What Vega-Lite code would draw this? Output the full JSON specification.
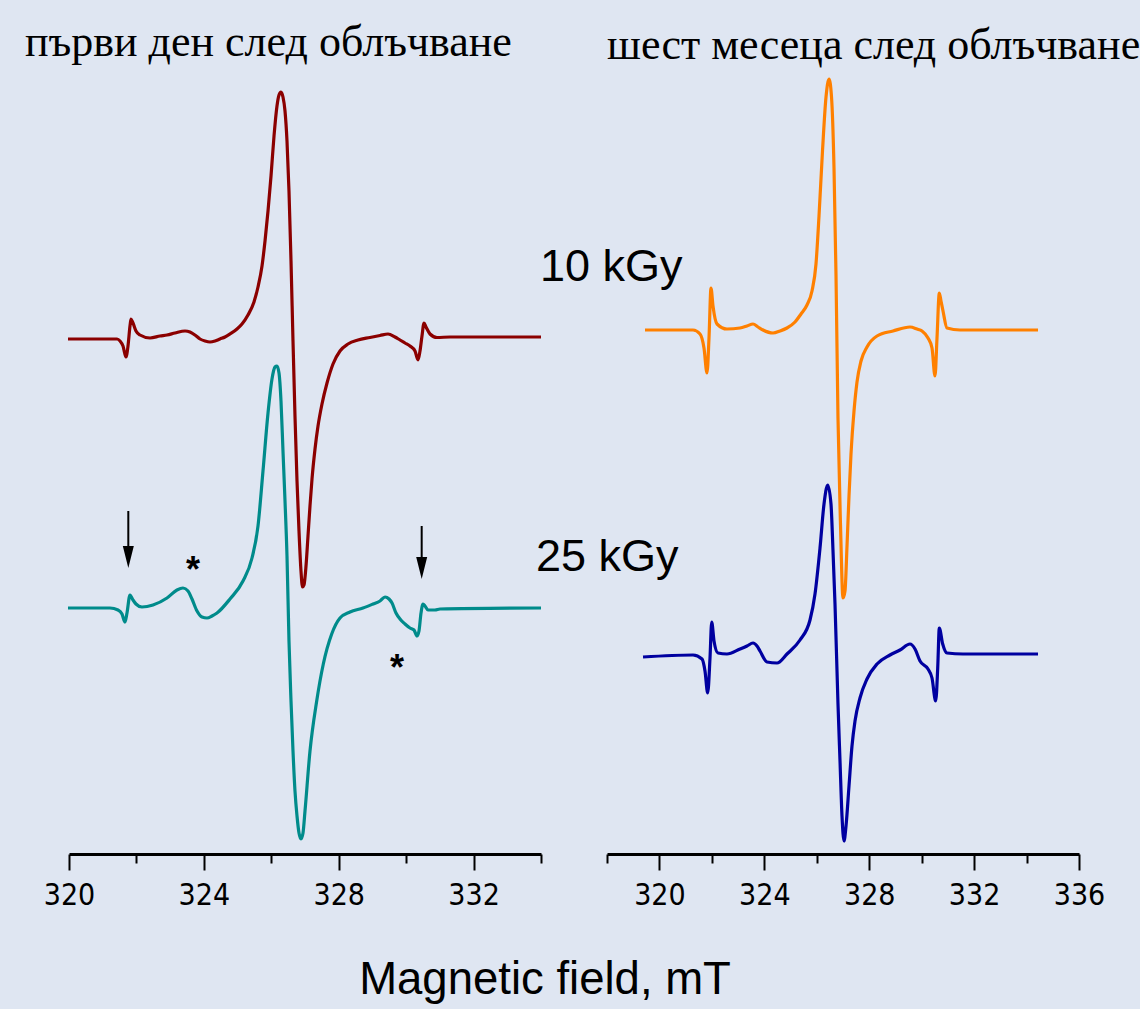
{
  "$schema": "https://vega.github.io/schema/vega-lite/v6.json",
  "background": "#dfe6f2",
  "padding": {"left": 25, "top": 20, "right": 4, "bottom": 8},
  "bounds": "flush",
  "spacing": 66,
  "resolve": {"scale": {"x": "independent", "y": "independent"}},
  "config": {"view": {"stroke": null}, "text": {"color": "black"}},
  "datasets": {
    "red": [
      {"B": 319.97, "I": 515}, {"B": 321.216, "I": 515}, {"B": 321.424, "I": 515}, {"B": 321.513, "I": 513},
      {"B": 321.602, "I": 508}, {"B": 321.691, "I": 497}, {"B": 321.75, "I": 508}, {"B": 321.809, "I": 528},
      {"B": 321.839, "I": 535}, {"B": 321.898, "I": 531}, {"B": 321.987, "I": 523}, {"B": 322.106, "I": 519},
      {"B": 322.403, "I": 516}, {"B": 322.699, "I": 518}, {"B": 322.907, "I": 519}, {"B": 323.144, "I": 521},
      {"B": 323.441, "I": 523}, {"B": 323.589, "I": 522}, {"B": 323.737, "I": 519}, {"B": 323.886, "I": 515},
      {"B": 324.034, "I": 513}, {"B": 324.182, "I": 512}, {"B": 324.331, "I": 513}, {"B": 324.479, "I": 515},
      {"B": 324.627, "I": 517}, {"B": 324.775, "I": 520}, {"B": 324.983, "I": 525}, {"B": 325.131, "I": 530},
      {"B": 325.309, "I": 539}, {"B": 325.487, "I": 552}, {"B": 325.606, "I": 567}, {"B": 325.725, "I": 588},
      {"B": 325.814, "I": 613}, {"B": 325.903, "I": 643}, {"B": 325.992, "I": 678}, {"B": 326.081, "I": 718},
      {"B": 326.169, "I": 748}, {"B": 326.229, "I": 759}, {"B": 326.288, "I": 762}, {"B": 326.347, "I": 757},
      {"B": 326.407, "I": 743}, {"B": 326.466, "I": 713}, {"B": 326.525, "I": 663}, {"B": 326.585, "I": 593},
      {"B": 326.644, "I": 513}, {"B": 326.703, "I": 438}, {"B": 326.763, "I": 373}, {"B": 326.822, "I": 323},
      {"B": 326.881, "I": 283}, {"B": 326.926, "I": 267}, {"B": 326.97, "I": 269}, {"B": 327.03, "I": 288},
      {"B": 327.089, "I": 318}, {"B": 327.148, "I": 348}, {"B": 327.208, "I": 375}, {"B": 327.297, "I": 405},
      {"B": 327.386, "I": 428}, {"B": 327.504, "I": 450}, {"B": 327.653, "I": 471}, {"B": 327.831, "I": 490},
      {"B": 328.038, "I": 503}, {"B": 328.275, "I": 510}, {"B": 328.572, "I": 514}, {"B": 328.928, "I": 516.5},
      {"B": 329.225, "I": 518.5}, {"B": 329.462, "I": 520}, {"B": 329.669, "I": 517},
      {"B": 329.818, "I": 514}, {"B": 329.966, "I": 511}, {"B": 330.114, "I": 508}, {"B": 330.263, "I": 503},
      {"B": 330.352, "I": 494}, {"B": 330.411, "I": 503}, {"B": 330.47, "I": 518}, {"B": 330.53, "I": 531},
      {"B": 330.589, "I": 527}, {"B": 330.708, "I": 520}, {"B": 330.915, "I": 516.5}, {"B": 331.301, "I": 517},
      {"B": 334.0, "I": 517}
    ],
    "teal": [
      {"B": 319.97, "I": 246}, {"B": 321.216, "I": 246}, {"B": 321.453, "I": 244}, {"B": 321.572, "I": 240},
      {"B": 321.661, "I": 232}, {"B": 321.72, "I": 241}, {"B": 321.809, "I": 259}, {"B": 321.898, "I": 254},
      {"B": 321.987, "I": 250}, {"B": 322.165, "I": 247}, {"B": 322.492, "I": 249}, {"B": 322.907, "I": 256},
      {"B": 323.203, "I": 264}, {"B": 323.381, "I": 266}, {"B": 323.53, "I": 263}, {"B": 323.648, "I": 255},
      {"B": 323.797, "I": 243}, {"B": 323.945, "I": 237}, {"B": 324.093, "I": 236}, {"B": 324.242, "I": 238},
      {"B": 324.39, "I": 241}, {"B": 324.775, "I": 255}, {"B": 325.161, "I": 273}, {"B": 325.428, "I": 296},
      {"B": 325.606, "I": 328}, {"B": 325.754, "I": 383}, {"B": 325.903, "I": 441}, {"B": 326.021, "I": 475},
      {"B": 326.11, "I": 487}, {"B": 326.169, "I": 488}, {"B": 326.229, "I": 481}, {"B": 326.288, "I": 453},
      {"B": 326.347, "I": 403}, {"B": 326.407, "I": 353}, {"B": 326.466, "I": 298}, {"B": 326.525, "I": 213},
      {"B": 326.585, "I": 153}, {"B": 326.644, "I": 103}, {"B": 326.703, "I": 63}, {"B": 326.763, "I": 38},
      {"B": 326.822, "I": 21}, {"B": 326.881, "I": 15}, {"B": 326.941, "I": 21}, {"B": 327.0, "I": 43},
      {"B": 327.148, "I": 103}, {"B": 327.347, "I": 153}, {"B": 327.543, "I": 190}, {"B": 327.792, "I": 220},
      {"B": 328.038, "I": 236}, {"B": 328.335, "I": 242}, {"B": 328.72, "I": 246}, {"B": 329.017, "I": 250}, {"B": 329.225, "I": 253},
      {"B": 329.373, "I": 257}, {"B": 329.492, "I": 255}, {"B": 329.581, "I": 251}, {"B": 329.699, "I": 241},
      {"B": 329.818, "I": 235}, {"B": 329.966, "I": 230}, {"B": 330.114, "I": 226}, {"B": 330.233, "I": 224},
      {"B": 330.322, "I": 218}, {"B": 330.381, "I": 223}, {"B": 330.441, "I": 241}, {"B": 330.5, "I": 250},
      {"B": 330.559, "I": 248}, {"B": 330.648, "I": 244}, {"B": 330.856, "I": 244}, {"B": 331.004, "I": 245},
      {"B": 334.0, "I": 246}
    ],
    "orange": [
      {"B": 319.449, "I": 524}, {"B": 321.28, "I": 524}, {"B": 321.547, "I": 520}, {"B": 321.699, "I": 506},
      {"B": 321.814, "I": 481}, {"B": 321.89, "I": 516}, {"B": 321.966, "I": 566}, {"B": 322.042, "I": 548},
      {"B": 322.195, "I": 530}, {"B": 322.576, "I": 525}, {"B": 323.072, "I": 526}, {"B": 323.339, "I": 528},
      {"B": 323.568, "I": 530}, {"B": 323.759, "I": 527}, {"B": 323.949, "I": 524}, {"B": 324.331, "I": 521},
      {"B": 324.598, "I": 523}, {"B": 324.864, "I": 526}, {"B": 325.17, "I": 532}, {"B": 325.398, "I": 540},
      {"B": 325.627, "I": 549}, {"B": 325.818, "I": 563}, {"B": 325.97, "I": 590}, {"B": 326.085, "I": 638},
      {"B": 326.218, "I": 703}, {"B": 326.352, "I": 757}, {"B": 326.466, "I": 775}, {"B": 326.562, "I": 757},
      {"B": 326.657, "I": 686}, {"B": 326.733, "I": 579}, {"B": 326.809, "I": 436}, {"B": 326.905, "I": 329},
      {"B": 327.0, "I": 256}, {"B": 327.076, "I": 263}, {"B": 327.153, "I": 308}, {"B": 327.229, "I": 358},
      {"B": 327.305, "I": 400}, {"B": 327.42, "I": 443}, {"B": 327.534, "I": 472}, {"B": 327.687, "I": 493},
      {"B": 327.915, "I": 507}, {"B": 328.297, "I": 518}, {"B": 328.907, "I": 523}, {"B": 329.555, "I": 527},
      {"B": 329.822, "I": 525}, {"B": 330.013, "I": 523}, {"B": 330.242, "I": 516}, {"B": 330.394, "I": 506},
      {"B": 330.509, "I": 478}, {"B": 330.585, "I": 516}, {"B": 330.673, "I": 561}, {"B": 330.737, "I": 553},
      {"B": 330.814, "I": 543}, {"B": 330.966, "I": 526}, {"B": 331.462, "I": 524}, {"B": 334.437, "I": 524}
    ],
    "blue": [
      {"B": 319.373, "I": 197}, {"B": 321.28, "I": 199}, {"B": 321.623, "I": 195}, {"B": 321.737, "I": 183},
      {"B": 321.84, "I": 161}, {"B": 321.928, "I": 196}, {"B": 321.993, "I": 232}, {"B": 322.081, "I": 213},
      {"B": 322.233, "I": 201}, {"B": 322.576, "I": 200}, {"B": 323.072, "I": 205}, {"B": 323.339, "I": 208},
      {"B": 323.568, "I": 211}, {"B": 323.72, "I": 208}, {"B": 323.835, "I": 203}, {"B": 324.102, "I": 192},
      {"B": 324.483, "I": 191}, {"B": 324.864, "I": 200}, {"B": 325.36, "I": 214}, {"B": 325.742, "I": 234},
      {"B": 325.932, "I": 260}, {"B": 326.123, "I": 306}, {"B": 326.276, "I": 350}, {"B": 326.417, "I": 369},
      {"B": 326.542, "I": 350}, {"B": 326.619, "I": 303}, {"B": 326.695, "I": 250}, {"B": 326.809, "I": 150},
      {"B": 326.886, "I": 93}, {"B": 326.962, "I": 38}, {"B": 327.038, "I": 13}, {"B": 327.115, "I": 28},
      {"B": 327.229, "I": 68}, {"B": 327.343, "I": 108}, {"B": 327.458, "I": 133}, {"B": 327.648, "I": 156},
      {"B": 327.915, "I": 175}, {"B": 328.297, "I": 190}, {"B": 328.792, "I": 199}, {"B": 329.174, "I": 204},
      {"B": 329.555, "I": 210}, {"B": 329.746, "I": 205}, {"B": 329.937, "I": 193}, {"B": 330.242, "I": 185},
      {"B": 330.394, "I": 176}, {"B": 330.535, "I": 153}, {"B": 330.612, "I": 186}, {"B": 330.673, "I": 226},
      {"B": 330.802, "I": 210}, {"B": 330.966, "I": 201}, {"B": 331.576, "I": 200}, {"B": 334.437, "I": 200}
    ],
    "leftTitle": [{"B": 318.695, "I": 798, "t": "първи ден след облъчване"}],
    "rightTitle": [{"B": 318.0, "I": 795, "t": "шест месеца след облъчване"}],
    "doses": [{"B": 333.97, "I": 573, "t": "10 kGy"}, {"B": 333.852, "I": 283, "t": "25 kGy"}],
    "xTitle": [{"B": 334.119, "I": -140, "t": "Magnetic field, mT"}],
    "stars": [{"B": 323.678, "I": 272, "t": "*"}, {"B": 329.729, "I": 174, "t": "*"}],
    "arrows": [{"B": 321.759, "I": 343, "I2": 300, "tip": 297}, {"B": 330.461, "I": 328, "I2": 290, "tip": 286}]
  },
  "hconcat": [
    {
      "width": 472,
      "height": 833,
      "layer": [
        {
          "data": {"name": "red"},
          "mark": {"type": "line", "color": "#8b0000", "strokeWidth": 3.2, "interpolate": "monotone", "strokeJoin": "round"},
          "encoding": {
            "x": {"field": "B", "type": "quantitative", "scale": {"domain": [320, 334], "nice": false, "zero": false},
              "axis": {"values": [320, 322, 324, 326, 328, 330, 332, 334], "labelExpr": "datum.value % 4 === 0 ? datum.label : ''",
                "tickSize": {"condition": {"test": "datum.value % 4 === 0", "value": 16}, "value": 9},
                "title": null, "grid": false, "domainColor": "black", "domainWidth": 3, "tickColor": "black", "tickWidth": 2,
                "labelFont": "Liberation Sans Narrow, DejaVu Sans Condensed, Liberation Sans", "labelFontSize": 30, "labelColor": "black",
                "labelPadding": 10, "labelFlush": false, "labelOverlap": false, "labelBound": false}},
            "y": {"field": "I", "type": "quantitative", "scale": {"domain": [0, 833], "nice": false, "zero": false}, "axis": null}
          }
        },
        {
          "data": {"name": "teal"},
          "mark": {"type": "line", "color": "#008b8b", "strokeWidth": 3.2, "interpolate": "monotone", "strokeJoin": "round"},
          "encoding": {
            "x": {"field": "B", "type": "quantitative"},
            "y": {"field": "I", "type": "quantitative", "axis": null}
          }
        },
        {
          "data": {"name": "arrows"},
          "mark": {"type": "rule", "color": "black", "strokeWidth": 2},
          "encoding": {
            "x": {"field": "B", "type": "quantitative"},
            "y": {"field": "I", "type": "quantitative", "axis": null},
            "y2": {"field": "I2"}
          }
        },
        {
          "data": {"name": "arrows"},
          "mark": {"type": "point", "shape": "M-0.5,-1L0.5,-1L0,1Z", "filled": true, "color": "black", "opacity": 1, "size": 484, "strokeWidth": 0},
          "encoding": {
            "x": {"field": "B", "type": "quantitative"},
            "y": {"field": "tip", "type": "quantitative", "axis": null}
          }
        },
        {
          "data": {"name": "stars"},
          "mark": {"type": "text", "font": "Liberation Sans", "fontSize": 36, "fontWeight": "bold", "align": "center", "baseline": "alphabetic"},
          "encoding": {
            "x": {"field": "B", "type": "quantitative"},
            "y": {"field": "I", "type": "quantitative", "axis": null},
            "text": {"field": "t"}
          }
        },
        {
          "data": {"name": "leftTitle"},
          "mark": {"type": "text", "font": "Liberation Serif", "fontSize": 44, "align": "left", "baseline": "alphabetic"},
          "encoding": {
            "x": {"field": "B", "type": "quantitative"},
            "y": {"field": "I", "type": "quantitative", "axis": null},
            "text": {"field": "t"}
          }
        },
        {
          "data": {"name": "doses"},
          "mark": {"type": "text", "font": "Liberation Sans", "fontSize": 45, "align": "left", "baseline": "alphabetic"},
          "encoding": {
            "x": {"field": "B", "type": "quantitative"},
            "y": {"field": "I", "type": "quantitative", "axis": null},
            "text": {"field": "t"}
          }
        },
        {
          "data": {"name": "xTitle"},
          "mark": {"type": "text", "font": "Liberation Sans", "fontSize": 45.5, "align": "center", "baseline": "alphabetic"},
          "encoding": {
            "x": {"field": "B", "type": "quantitative"},
            "y": {"field": "I", "type": "quantitative", "axis": null},
            "text": {"field": "t"}
          }
        }
      ]
    },
    {
      "width": 472,
      "height": 833,
      "layer": [
        {
          "data": {"name": "orange"},
          "mark": {"type": "line", "color": "#ff8000", "strokeWidth": 3.2, "interpolate": "monotone", "strokeJoin": "round"},
          "encoding": {
            "x": {"field": "B", "type": "quantitative", "scale": {"domain": [318, 336], "nice": false, "zero": false},
              "axis": {"values": [318, 320, 322, 324, 326, 328, 330, 332, 334, 336], "labelExpr": "datum.value % 4 === 0 ? datum.label : ''",
                "tickSize": {"condition": {"test": "datum.value % 4 === 0", "value": 16}, "value": 9},
                "title": null, "grid": false, "domainColor": "black", "domainWidth": 3, "tickColor": "black", "tickWidth": 2,
                "labelFont": "Liberation Sans Narrow, DejaVu Sans Condensed, Liberation Sans", "labelFontSize": 30, "labelColor": "black",
                "labelPadding": 10, "labelFlush": false, "labelOverlap": false, "labelBound": false}},
            "y": {"field": "I", "type": "quantitative", "scale": {"domain": [0, 833], "nice": false, "zero": false}, "axis": null}
          }
        },
        {
          "data": {"name": "blue"},
          "mark": {"type": "line", "color": "#0000a0", "strokeWidth": 3.2, "interpolate": "monotone", "strokeJoin": "round"},
          "encoding": {
            "x": {"field": "B", "type": "quantitative"},
            "y": {"field": "I", "type": "quantitative", "axis": null}
          }
        },
        {
          "data": {"name": "rightTitle"},
          "mark": {"type": "text", "font": "Liberation Serif", "fontSize": 44, "align": "left", "baseline": "alphabetic"},
          "encoding": {
            "x": {"field": "B", "type": "quantitative"},
            "y": {"field": "I", "type": "quantitative", "axis": null},
            "text": {"field": "t"}
          }
        }
      ]
    }
  ]
}
